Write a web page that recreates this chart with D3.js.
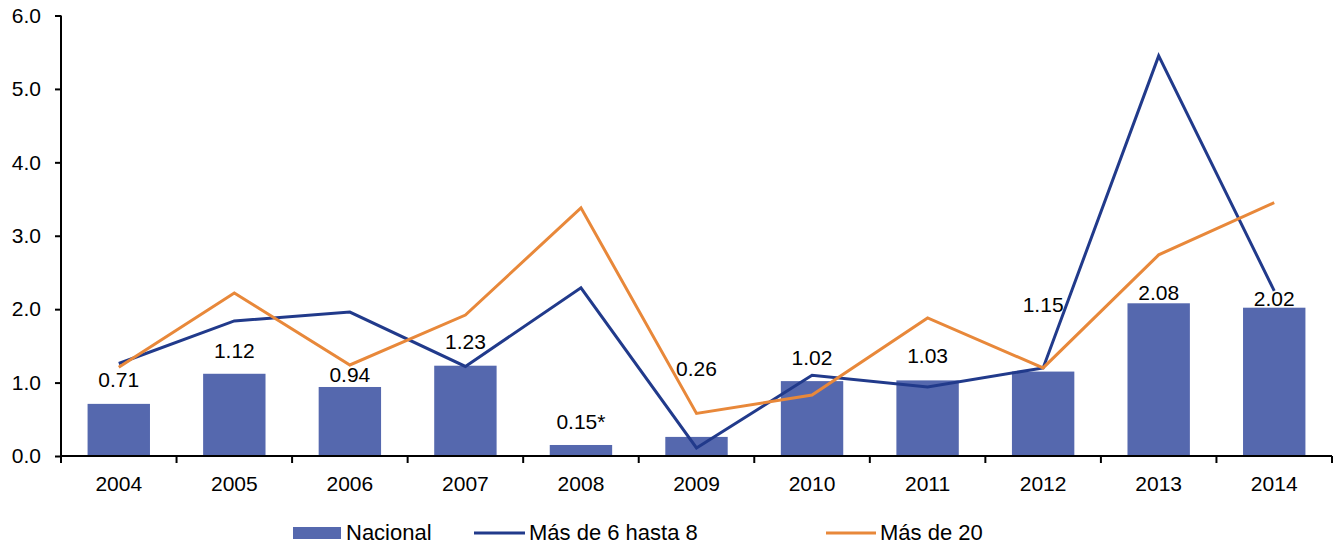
<!DOCTYPE html>
<html>
<head>
<meta charset="utf-8">
<script src="https://cdn.jsdelivr.net/npm/d3@7"></script>
<style>
  body { margin: 0; background: #fff; }
  svg text { font-family: "Liberation Sans", Arial, Helvetica, sans-serif; fill: #000; }
</style>
</head>
<body>
<div id="holder"></div>
<script>
// data
const years = ["2004", "2005", "2006", "2007", "2008", "2009", "2010", "2011", "2012", "2013", "2014"];
const nacional = [0.71, 1.12, 0.94, 1.23, 0.15, 0.26, 1.02, 1.03, 1.15, 2.08, 2.02];
const nacionalLabels = ["0.71", "1.12", "0.94", "1.23", "0.15*", "0.26", "1.02", "1.03", "1.15", "2.08", "2.02"];
const mas6hasta8 = [1.26, 1.84, 1.96, 1.22, 2.29, 0.11, 1.10, 0.94, 1.20, 5.45, 2.25];
const mas20 = [1.21, 2.22, 1.24, 1.92, 3.38, 0.58, 0.83, 1.88, 1.20, 2.74, 3.45];
const yTicks = [0, 1, 2, 3, 4, 5, 6];

// gap (px) between bar top and its value label, as placed in the original
const labelGap = [17, 16, 5, 17, 16, 61, 16, 17, 60, 3, 2];

const w = 1335, h = 546;
const plotLeft = 61, plotRight = 1332, plotTop = 15.5, plotBottom = 456;
const fontSize = 21;
const legendFont = 22;

const colBar = "#5568ae";
const colBlue = "#213a8b";
const colOrange = "#e8883a";

let svg = d3.select("#holder")
    .append("svg")
    .attr("width", w)
    .attr("height", h);

let xScale = d3.scaleBand()
    .domain(years)
    .range([plotLeft, plotRight])
    .paddingInner(0.46)
    .paddingOuter(0.23);

let yScale = d3.scaleLinear()
    .domain([0, 6])
    .range([plotBottom, plotTop]);

const cx = d => xScale(d) + xScale.bandwidth() / 2;

// bars
svg.selectAll("rect.bar")
    .data(years)
    .enter()
    .append("rect")
    .attr("class", "bar")
    .attr("x", d => xScale(d))
    .attr("y", (d, i) => yScale(nacional[i]))
    .attr("width", xScale.bandwidth())
    .attr("height", (d, i) => yScale(0) - yScale(nacional[i]))
    .attr("fill", colBar);

// value labels
svg.selectAll("text.val")
    .data(years)
    .enter()
    .append("text")
    .attr("class", "val")
    .attr("x", d => cx(d))
    .attr("y", (d, i) => yScale(nacional[i]) - labelGap[i])
    .attr("text-anchor", "middle")
    .style("font-size", fontSize + "px")
    .text((d, i) => nacionalLabels[i]);

//lines
let valueLine = d3.line()
    .x((d, i) => cx(years[i]))
    .y(d => yScale(d))
    .curve(d3.curveLinear);

svg.append("path")
    .attr("fill", "none")
    .attr("stroke", colBlue)
    .attr("stroke-width", 3)
    .attr("stroke-linejoin", "miter")
    .attr("d", valueLine(mas6hasta8));

svg.append("path")
    .attr("fill", "none")
    .attr("stroke", colOrange)
    .attr("stroke-width", 3)
    .attr("stroke-linejoin", "miter")
    .attr("d", valueLine(mas20));

//Axes
// x axis: ticks sit on the band edges
let edges = years.map(d => xScale(d) - xScale.step() * 0.23).concat([plotRight]);
let xg = svg.append("g").attr("id", "x-axis");
xg.append("line")
    .attr("x1", plotLeft).attr("x2", plotRight)
    .attr("y1", plotBottom).attr("y2", plotBottom)
    .attr("stroke", "#000").attr("stroke-width", 2);
xg.selectAll("line.tick")
    .data(edges)
    .enter()
    .append("line")
    .attr("class", "tick")
    .attr("x1", d => d).attr("x2", d => d)
    .attr("y1", plotBottom).attr("y2", plotBottom + 7)
    .attr("stroke", "#000").attr("stroke-width", 2);
xg.selectAll("text")
    .data(years)
    .enter()
    .append("text")
    .attr("x", d => cx(d))
    .attr("y", 491)
    .attr("text-anchor", "middle")
    .style("font-size", fontSize + "px")
    .text(d => d);

const yAxis = d3.axisLeft(yScale)
    .tickValues(yTicks)
    .tickSize(6)
    .tickPadding(14)
    .tickFormat(d3.format(".1f"));
let yg = svg.append("g")
    .attr("transform", "translate(" + plotLeft + ",0)")
    .attr("id", "y-axis")
    .call(yAxis);
yg.attr("font-family", null).attr("font-size", null);
yg.select(".domain").attr("stroke", "#000").attr("stroke-width", 2)
    .attr("d", "M0," + (plotBottom + 1) + "V" + plotTop);
yg.selectAll(".tick line").attr("stroke", "#000").attr("stroke-width", 2);
yg.selectAll(".tick text")
    .style("font-size", fontSize + "px");

// legend
let legend = svg.append("g").attr("id", "legend");
legend.append("rect")
    .attr("x", 293).attr("y", 527)
    .attr("width", 48).attr("height", 12)
    .attr("fill", colBar);
legend.append("text")
    .attr("x", 346).attr("y", 540)
    .style("font-size", legendFont + "px")
    .text("Nacional");
legend.append("line")
    .attr("x1", 474).attr("x2", 525)
    .attr("y1", 533).attr("y2", 533)
    .attr("stroke", colBlue).attr("stroke-width", 3);
legend.append("text")
    .attr("x", 529).attr("y", 540)
    .style("font-size", legendFont + "px")
    .text("Más de 6 hasta 8");
legend.append("line")
    .attr("x1", 826).attr("x2", 876)
    .attr("y1", 533).attr("y2", 533)
    .attr("stroke", colOrange).attr("stroke-width", 3);
legend.append("text")
    .attr("x", 880).attr("y", 540)
    .style("font-size", legendFont + "px")
    .text("Más de 20");
</script>
</body>
</html>
